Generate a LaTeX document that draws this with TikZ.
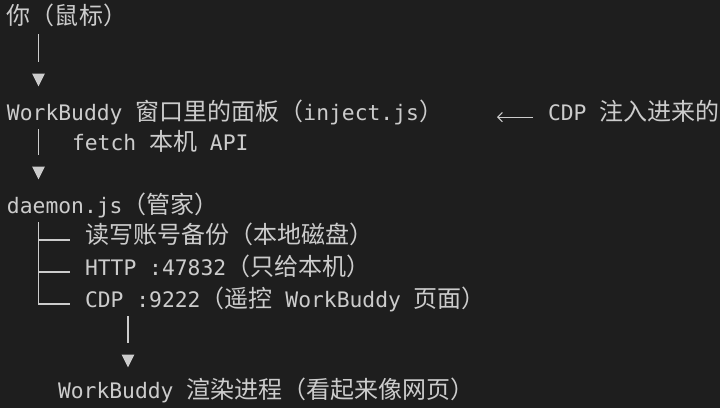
\documentclass[tikz,border=0pt]{standalone}
\usepackage{fontspec}
\setmonofont{DejaVu Sans Mono}
\newfontfamily\cjkfont[Scale=1.125]{Noto Sans CJK SC}
\newcommand\zh[1]{{\cjkfont #1}}
\usetikzlibrary{shapes.geometric,arrows.meta}
\definecolor{termbg}{HTML}{1E1E1E}
\definecolor{termfg}{HTML}{CCCCCC}

\begin{document}
\begin{tikzpicture}[
		x=0.75pt, y=-0.75pt,
		txt/.style={anchor=base west, inner sep=0pt, outer sep=0pt, text=termfg, font=\ttfamily\fontsize{16pt}{20pt}\selectfont},
		link/.style={draw=termfg, line width=1.3pt},
		ptr/.style={draw=termfg, line width=0.8pt, -{Straight Barb[length=3.5pt,width=7pt]}},
		tip/.style={isosceles triangle, isosceles triangle stretches, shape border rotate=-90, minimum width=9.5pt, minimum height=9.5pt, inner sep=0pt, fill=termfg, anchor=apex}
	]
	\fill[termbg] (0,0) rectangle (720,408);
	\useasboundingbox (0,0) rectangle (720,408);
	\node[txt] (you) at (7,24) {\zh{你（鼠标）}};
	\node[tip] (t1) at (38.5,87) {};
	\draw[link, shorten <=6pt, shorten >=18.75pt] (t1.apex |- you.south) -- (t1.apex);
	\node[txt] (panel) at (7,120) {WorkBuddy \zh{窗口里的面板（}inject.js\zh{）}};
	\node[txt] (note) at (548,120) {CDP \zh{注入进来的}};
	\coordinate (inj) at (497,112);
	\draw[ptr] ([xshift=-11.25pt]note.mid west) -- (inj |- note.mid west);
	\node[tip] (t2) at (38.5,180) {};
	\draw[link, shorten <=3.75pt, shorten >=18.75pt] (t2.apex |- panel.south) -- (t2.apex);
	\node[txt] (fetch) at (72,150) {fetch \zh{本机} API};
	\node[txt] (daemon) at (7,213) {daemon.js\zh{（管家）}};
	\node[txt] (disk) at (85,243) {\zh{读写账号备份（本地磁盘）}};
	\node[txt] (http) at (85,275) {HTTP :47832\zh{（只给本机）}};
	\node[txt] (cdp) at (85,307) {CDP :9222\zh{（遥控} WorkBuddy \zh{页面）}};
	\draw[link, shorten <=3.75pt] (t2.apex |- daemon.south) |- ([xshift=-11.25pt]cdp.mid west);
	\foreach \branch in {disk,http}
		\draw[link] (t2.apex |- \branch.mid west) -- ([xshift=-11.25pt]\branch.mid west);
	\node[tip] (t3) at (128,368) {};
	\draw[link, shorten <=3.75pt, shorten >=18.75pt] (t3.apex |- cdp.south) -- (t3.apex);
	\node[txt] (render) at (58,398) {WorkBuddy \zh{渲染进程（看起来像网页）}};
\end{tikzpicture}
\end{document}
